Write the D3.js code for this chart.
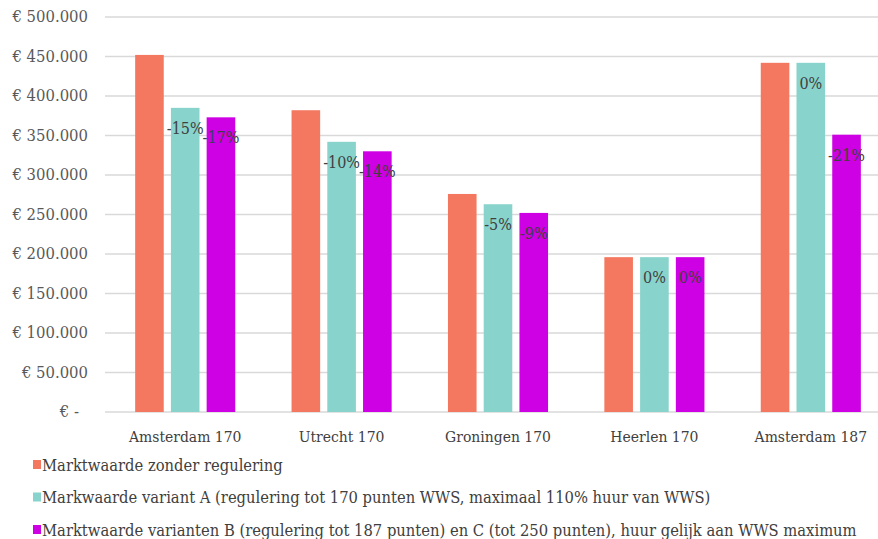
<!DOCTYPE html>
<html>
<head>
<meta charset="utf-8">
<script src="https://cdn.jsdelivr.net/npm/d3@7"></script>
<style>
  body { margin: 0; background: #fff; }
  svg { display: block; }
  svg text { font-family: "DejaVu Serif Condensed", "DejaVu Serif", "Liberation Serif", serif; }
</style>
</head>
<body>
<svg width="878" height="539"></svg>
<script>
const width = 878, height = 539;
const svg = d3.select("svg");

// data
const categories = ["Amsterdam 170", "Utrecht 170", "Groningen 170", "Heerlen 170", "Amsterdam 187"];
const seriesNames = [
  "Marktwaarde zonder regulering",
  "Markwaarde variant A (regulering tot 170 punten WWS, maximaal 110% huur van WWS)",
  "Marktwaarde varianten B (regulering tot 187 punten) en C (tot 250 punten), huur gelijk aan WWS maximum"
];
const zonder = [452000, 382000, 276000, 196000, 442000];
const variantA = [385000, 342000, 263000, 196000, 442000];
const variantBC = [373000, 330000, 252000, 196000, 351000];
const labelsA = ["-15%", "-10%", "-5%", "0%", "0%"];
const labelsBC = ["-17%", "-14%", "-9%", "0%", "-21%"];
const yTicks = [0, 50000, 100000, 150000, 200000, 250000, 300000, 350000, 400000, 450000, 500000];

const colors = ["#F4785F", "#88D3CB", "#CE00E4"];
const series = [zonder, variantA, variantBC];
const pctLabels = [null, labelsA, labelsBC];

const x = d3.scaleBand().domain(categories).range([107, 889]).paddingInner(0.36).paddingOuter(0.18);
const sub = d3.scaleBand().domain([0, 1, 2]).range([0, x.bandwidth()]).paddingInner(0.2);
const y = d3.scaleLinear().domain([0, 500000]).range([412, 17]);

const fmt = v => v === 0 ? "€ -" : "€ " + d3.format(",")(v).replace(/,/g, ".");

// gridlines
svg.append("g")
  .selectAll("line")
  .data(yTicks)
  .join("line")
  .attr("x1", 105).attr("x2", 878)
  .attr("y1", d => y(d)).attr("y2", d => y(d))
  .attr("stroke", "#D9D9D9")
  .attr("stroke-width", 1.5);

// y labels
svg.append("g")
  .selectAll("text")
  .data(yTicks)
  .join("text")
  .attr("x", d => d === 0 ? 79 : 88)
  .attr("y", d => y(d) + 5)
  .attr("text-anchor", "end")
  .attr("font-size", 16.5)
  .attr("fill", "#595959")
  .text(fmt);

// bars
series.forEach((vals, s) => {
  svg.append("g")
    .selectAll("rect")
    .data(vals)
    .join("rect")
    .attr("x", (d, i) => x(categories[i]) + sub(s))
    .attr("width", sub.bandwidth())
    .attr("y", d => y(d))
    .attr("height", d => y(0) - y(d))
    .attr("fill", colors[s]);
});

// percentage labels
[1, 2].forEach(s => {
  svg.append("g")
    .selectAll("text")
    .data(series[s])
    .join("text")
    .attr("x", (d, i) => x(categories[i]) + sub(s) + sub.bandwidth() / 2)
    .attr("y", d => y(d) + 26)
    .attr("text-anchor", "middle")
    .attr("font-size", 16)
    .attr("fill", "#404040")
    .text((d, i) => pctLabels[s][i]);
});

// x labels
svg.append("g")
  .selectAll("text")
  .data(categories)
  .join("text")
  .attr("x", d => x(d) + x.bandwidth() / 2)
  .attr("y", 442)
  .attr("text-anchor", "middle")
  .attr("font-size", 15.5)
  .attr("fill", "#404040")
  .text(d => d);

// legend
const legend = svg.append("g")
  .selectAll("g")
  .data(seriesNames)
  .join("g")
  .attr("transform", (d, i) => `translate(33, ${465 + i * 32.5})`);

legend.append("rect")
  .attr("x", 0).attr("y", -5)
  .attr("width", 8).attr("height", 9)
  .attr("fill", (d, i) => colors[i]);

legend.append("text")
  .attr("x", 9)
  .attr("y", 5.5)
  .attr("font-size", 16.4)
  .attr("fill", "#404040")
  .text(d => d);
</script>
</body>
</html>
